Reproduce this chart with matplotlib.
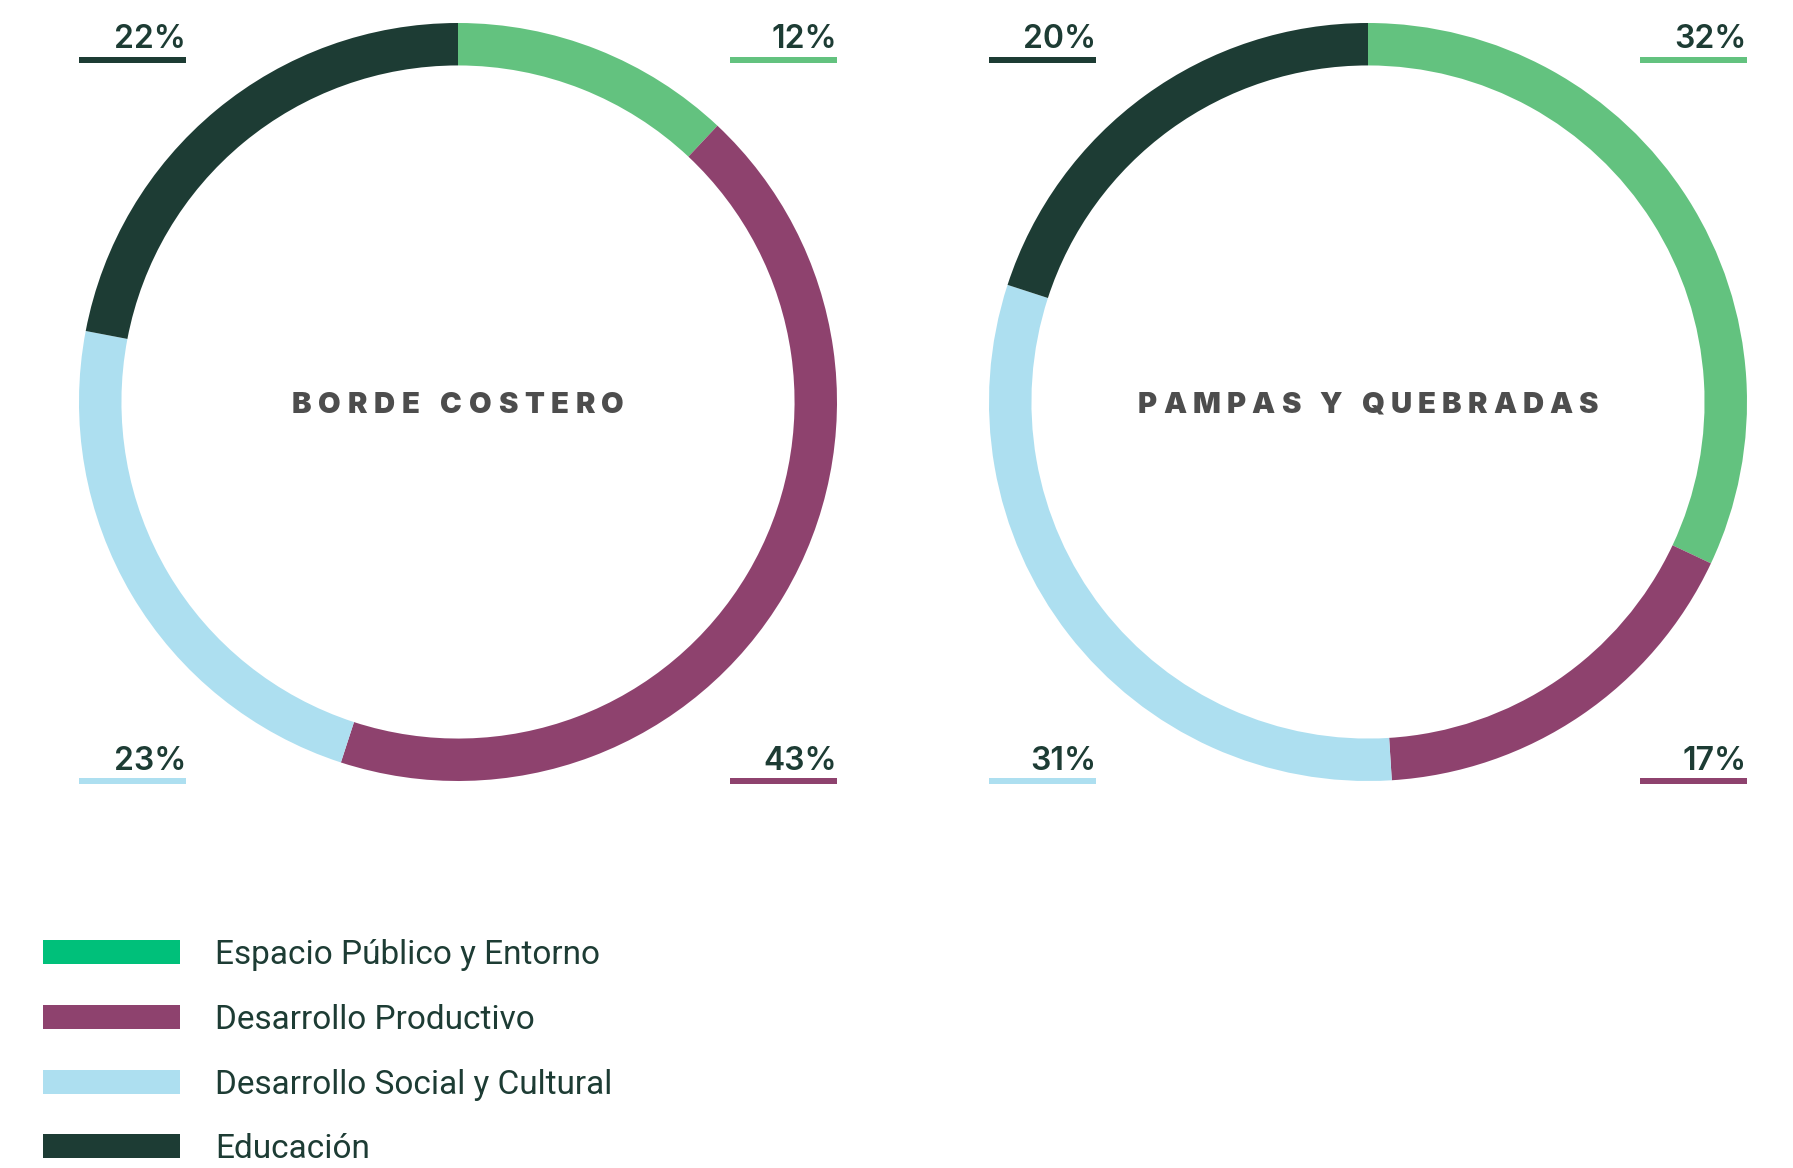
import matplotlib
matplotlib.use("Agg")
import matplotlib.pyplot as plt
from matplotlib.patches import Rectangle

# datos
categorias = ["Espacio Público y Entorno", "Desarrollo Productivo",
              "Desarrollo Social y Cultural", "Educación"]
borde_costero = [12, 43, 23, 22]
pampas_quebradas = [32, 17, 31, 20]
titulos = ["BORDE COSTERO", "PAMPAS Y QUEBRADAS"]

colores_anillo = ["#63c27f", "#8e426e", "#addff0", "#1d3c34"]
colores_leyenda = ["#00c07a", "#8e426e", "#addff0", "#1d3c34"]
TEXTO = "#1d3c34"

W, H = 1793, 1168
R = 379
centros = [(458, 402), (1368, 402)]
anchos_titulo = [332, 460]
# esquina de la etiqueta para cada categoría
esquinas = ["tr", "br", "bl", "tl"]

fig = plt.figure(figsize=(W / 100, H / 100), dpi=100)

for (cx, cy), vals in zip(centros, [borde_costero, pampas_quebradas]):
    ax = fig.add_axes([(cx - R) / W, (H - cy - R) / H, 2 * R / W, 2 * R / H])
    ax.pie(vals, colors=colores_anillo, startangle=90, counterclock=False,
           radius=1, wedgeprops=dict(width=0.112, linewidth=0))
    ax.set_xlim(-1, 1)
    ax.set_ylim(-1, 1)
    ax.set_facecolor("none")

ov = fig.add_axes([0, 0, 1, 1])
ov.set_xlim(0, W)
ov.set_ylim(H, 0)
ov.axis("off")
ov.patch.set_alpha(0)

renderer = fig.canvas.get_renderer()


def texto_espaciado(ax, cx, y, s, ancho, **kw):
    ts, ws = [], []
    for c in s:
        if c == " ":
            ts.append(None)
            ws.append(kw["fontsize"] * 0.35)
            continue
        t = ax.text(0, y, c, ha="left", va="baseline", **kw)
        ts.append(t)
        ws.append(t.get_window_extent(renderer).width)
    track = (ancho - sum(ws)) / (len(s) - 1)
    x = cx - ancho / 2
    for t, w in zip(ts, ws):
        if t is not None:
            t.set_x(x)
        x += w + track


for (cx, cy), vals, titulo, ancho in zip(centros, [borde_costero, pampas_quebradas],
                                         titulos, anchos_titulo):
    texto_espaciado(ov, cx, cy + 11, titulo, ancho, fontsize=21,
                    fontweight="black", family=["Inter", "DejaVu Sans"],
                    color="#4d4d4d")
    for v, col, esq in zip(vals, colores_anillo, esquinas):
        if esq[1] == "l":
            x0, x1 = cx - R, cx - R + 107
        else:
            x0, x1 = cx + R - 107, cx + R
        if esq[0] == "t":
            y_lin, y_txt = 60, 48
        else:
            y_lin, y_txt = 781, 770
        ov.add_patch(Rectangle((x0, y_lin - 3), x1 - x0, 6, color=col, lw=0))
        ov.text(x1, y_txt, f"{v}%", ha="right", va="baseline", fontsize=23,
                fontweight="semibold", family=["Inter", "DejaVu Sans"],
                color=TEXTO)

# leyenda
filas_y = [952, 1017, 1082, 1146]
for cat, col, y in zip(categorias, colores_leyenda, filas_y):
    ov.add_patch(Rectangle((43, y - 12), 137, 24, color=col, lw=0))
    ov.text(215, y + 12, cat, ha="left", va="baseline", fontsize=24,
            family=["Liberation Sans Narrow", "Roboto", "DejaVu Sans"],
            color=TEXTO)

fig.savefig("out.png", dpi=100, facecolor="white")
